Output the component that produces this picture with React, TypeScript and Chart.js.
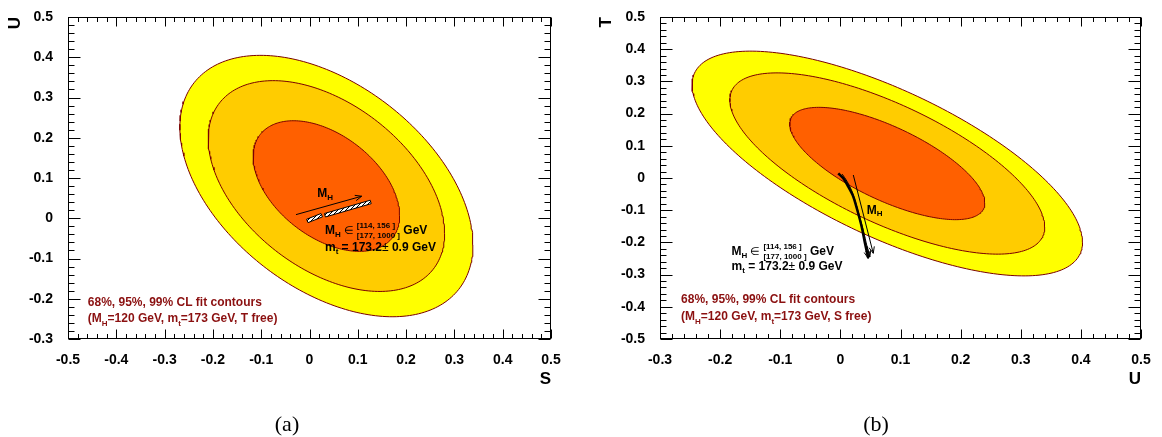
import React, { useEffect, useRef } from 'react';
import { Chart, registerables } from 'chart.js';

Chart.register(...registerables);

// Confidence levels of the fit contours (Δχ² for two parameters) and their fills
const clLabels = ['68%', '95%', '99%'];
const deltaChi2 = [2.3, 5.99, 9.21];
const clFill = ['#ff6000', '#ffcc00', '#ffff00'];
const clEdge = '#7a0000';

// S–U fit with T free: best-fit point, uncertainties, correlation
const suCentre = [0.035, 0.08];
const suSigma = [0.1, 0.107];
const suCorr = -0.45;

// U–T fit with S free
const utCentre = [0.078, 0.045];
const utSigma = [0.107, 0.115];
const utCorr = -0.7;

// Axis ranges
const sRange = [-0.5, 0.5];
const uRangeA = [-0.3, 0.5];
const uRangeB = [-0.3, 0.5];
const tRange = [-0.5, 0.5];
const tickStep = 0.1;

// SM prediction (M_H ∈ [114,156] ∪ [177,1000] GeV, m_t = 173.2 ± 0.9 GeV), S–U plane
const suBandLight = [[-0.006, -0.0025], [0.0239, 0.0117], [0.0267, 0.0033], [-0.0032, -0.0109]];
const suBandHeavy = [[0.031, 0.0118], [0.1257, 0.0448], [0.1277, 0.0362], [0.033, 0.0032]];
const suArrow = [[-0.028, 0.009], [0.108, 0.0547]];

// SM prediction, U–T plane
const utBandEdge = [[-0.0035, 0.0146], [0.0048, -0.0009], [0.0131, -0.027], [0.0215, -0.058], [0.0281, -0.0994], [0.0354, -0.1513], [0.0409, -0.2029], [0.0464, -0.2494]];
const utBandInner = [[0.003, 0.012], [0.011, -0.01], [0.019, -0.04], [0.026, -0.08], [0.032, -0.12], [0.0385, -0.165], [0.044, -0.21], [0.049, -0.245]];
const utArrow = [[0.0215, 0.0093], [0.0547, -0.2338]];

const SANS = '"Liberation Sans", Arial, Helvetica, sans-serif';
const NOTE_RED = '#8b1010';

type Run = { t?: string; stack?: string[]; size: number; dy?: number; normal?: boolean };
type Note = { at: number[]; runs: Run[]; color: string };

const mhRange: Run[] = [
  { t: 'M', size: 12 }, { t: 'H', size: 8, dy: 4 }, { t: ' ∈ ', size: 11, normal: true },
  { stack: ['[114, 156 ]', '[177, 1000 ]'], size: 8 }, { t: ' GeV', size: 12 },
];
const mtValue: Run[] = [
  { t: 'm', size: 12 }, { t: 't', size: 8, dy: 4 }, { t: ' = 173.2', size: 12 },
  { t: '±', size: 12, normal: true }, { t: ' 0.9 GeV', size: 12 },
];
const mhLabel: Run[] = [{ t: 'M', size: 12 }, { t: 'H', size: 8, dy: 4 }];
const clTitle: Run[] = [{ t: `${clLabels.join(', ')} CL fit contours`, size: 12 }];
const fixedInputs = (free: string): Run[] => [
  { t: '(M', size: 12 }, { t: 'H', size: 8, dy: 5 }, { t: '=120 GeV, m', size: 12 },
  { t: 't', size: 8, dy: 5 }, { t: `=173 GeV, ${free} free)`, size: 12 },
];

function contour(centre: number[], sigma: number[], rho: number, chi2: number) {
  const k = Math.sqrt(chi2);
  const pts: { x: number; y: number }[] = [];
  for (let i = 0; i <= 240; i++) {
    const a = (i / 240) * 2 * Math.PI;
    const u = Math.cos(a);
    const v = Math.sin(a);
    pts.push({
      x: centre[0] + k * sigma[0] * u,
      y: centre[1] + k * sigma[1] * (rho * u + Math.sqrt(1 - rho * rho) * v),
    });
  }
  return pts;
}

const toXY = (arr: number[][], close = false) => {
  const pts = arr.map(([x, y]) => ({ x, y }));
  if (close) pts.push({ ...pts[0] });
  return pts;
};

function contourSets(centre: number[], sigma: number[], rho: number) {
  return deltaChi2.map((c, i) => ({
    data: contour(centre, sigma, rho, c),
    backgroundColor: clFill[i],
    borderColor: clEdge,
    borderWidth: 1,
    fill: 'shape',
    pointRadius: 0,
    tension: 0,
    order: 10 + i,
  }));
}

function drawRuns(ctx: CanvasRenderingContext2D, x: number, y: number, runs: Run[], color: string) {
  let cx = x;
  ctx.fillStyle = color;
  ctx.textAlign = 'left';
  ctx.textBaseline = 'middle';
  for (const r of runs) {
    ctx.font = `${r.normal ? '' : 'bold '}${r.size}px ${SANS}`;
    if (r.stack) {
      ctx.fillText(r.stack[0], cx, y - 5);
      ctx.fillText(r.stack[1], cx, y + 5);
      cx += Math.max(ctx.measureText(r.stack[0]).width, ctx.measureText(r.stack[1]).width);
    } else if (r.t) {
      ctx.fillText(r.t, cx, y + (r.dy || 0));
      cx += ctx.measureText(r.t).width;
    }
  }
}

function makeDecor(arrows: number[][][], notes: Note[]) {
  return {
    id: 'decor',
    afterDatasetsDraw(chart: any) {
      const { ctx, chartArea: a } = chart;
      const xs = chart.scales.x;
      const ys = chart.scales.y;
      const L = Math.round(a.left) + 0.5;
      const R = Math.round(a.right) - 0.5;
      const T = Math.round(a.top) + 0.5;
      const B = Math.round(a.bottom) - 0.5;
      ctx.save();
      ctx.strokeStyle = '#000';
      ctx.lineWidth = 1;
      ctx.strokeRect(L, T, R - L, B - T);

      const ticksOf = (scale: any) => {
        const major: number[] = scale.ticks.map((t: any) => t.value);
        const minor: number[] = [];
        for (let i = 0; i + 1 < major.length; i++) {
          for (let k = 1; k < 5; k++) minor.push(major[i] + ((major[i + 1] - major[i]) * k) / 5);
        }
        return { major, minor };
      };
      ctx.beginPath();
      const xt = ticksOf(xs);
      const drawX = (vals: number[], len: number) => {
        for (const v of vals) {
          const px = Math.round(xs.getPixelForValue(v)) + 0.5;
          ctx.moveTo(px, B); ctx.lineTo(px, B - len);
          ctx.moveTo(px, T); ctx.lineTo(px, T + len);
        }
      };
      drawX(xt.major, 9);
      drawX(xt.minor, 4.5);
      const yt = ticksOf(ys);
      const drawY = (vals: number[], len: number) => {
        for (const v of vals) {
          const py = Math.round(ys.getPixelForValue(v)) + 0.5;
          ctx.moveTo(L, py); ctx.lineTo(L + len, py);
          ctx.moveTo(R, py); ctx.lineTo(R - len, py);
        }
      };
      drawY(yt.major, 12);
      drawY(yt.minor, 6);
      ctx.stroke();

      // arrows: shaft along the listed points, open head at the last one
      for (const path of arrows) {
        const pts = path.map(([x, y]) => [xs.getPixelForValue(x), ys.getPixelForValue(y)]);
        ctx.beginPath();
        ctx.moveTo(pts[0][0], pts[0][1]);
        for (let i = 1; i < pts.length; i++) ctx.lineTo(pts[i][0], pts[i][1]);
        const [x1, y1] = pts[pts.length - 1];
        const [x0, y0] = pts[pts.length - 2];
        const d = Math.hypot(x1 - x0, y1 - y0) || 1;
        const ux = (x1 - x0) / d;
        const uy = (y1 - y0) / d;
        const hl = 7;
        const ang = 0.4;
        for (const s of [-1, 1]) {
          const c = Math.cos(s * ang);
          const sn = Math.sin(s * ang);
          const rx = ux * c - uy * sn;
          const ry = ux * sn + uy * c;
          ctx.moveTo(x1, y1);
          ctx.lineTo(x1 - hl * rx, y1 - hl * ry);
        }
        ctx.stroke();
      }

      for (const n of notes) {
        drawRuns(ctx, xs.getPixelForValue(n.at[0]), ys.getPixelForValue(n.at[1]), n.runs, n.color);
      }
      ctx.restore();
    },
  };
}

const fmt = (v: any) => (Math.abs(Number(v)) < 1e-9 ? '0' : Number(v).toFixed(1));

function panelOptions(xr: number[], yr: number[], xTitle: string, yTitle: string, yWidth: number, padRight: number, yTitlePad: number) {
  const tickFont = { family: SANS, size: 14, weight: 'bold' as const };
  const titleFont = { family: SANS, size: 17, weight: 'bold' as const };
  return {
    responsive: false,
    animation: false as const,
    events: [],
    layout: { padding: { left: 0, top: 17, right: padRight, bottom: 0 } },
    plugins: { legend: { display: false }, tooltip: { enabled: false } },
    scales: {
      x: {
        type: 'linear' as const,
        min: xr[0],
        max: xr[1],
        grid: { display: false },
        border: { display: false },
        ticks: { stepSize: tickStep, padding: 5, color: '#000', font: tickFont, callback: fmt, autoSkip: false, maxRotation: 0 },
        title: { display: true, text: xTitle, align: 'end' as const, color: '#000', font: titleFont, padding: { top: 0, bottom: 47 } },
        afterFit: (s: any) => { s.height = 98; },
      },
      y: {
        type: 'linear' as const,
        min: yr[0],
        max: yr[1],
        grid: { display: false },
        border: { display: false },
        ticks: { stepSize: tickStep, padding: 7, color: '#000', font: tickFont, callback: fmt, autoSkip: false },
        title: { display: true, text: yTitle, align: 'end' as const, color: '#000', font: titleFont, padding: { top: yTitlePad, bottom: 0 } },
        afterFit: (s: any) => { s.width = yWidth; },
      },
    },
  };
}

export default function App() {
  const refA = useRef<HTMLCanvasElement | null>(null);
  const refB = useRef<HTMLCanvasElement | null>(null);

  useEffect(() => {
    const pc = document.createElement('canvas');
    pc.width = 4;
    pc.height = 4;
    const p = pc.getContext('2d')!;
    p.fillStyle = '#fff';
    p.fillRect(0, 0, 4, 4);
    p.strokeStyle = '#000';
    p.lineWidth = 1;
    p.beginPath();
    p.moveTo(0, 4);
    p.lineTo(4, 0);
    p.stroke();
    const hatch = p.createPattern(pc, 'repeat');

    const bandSet = (arr: number[][]) => ({
      data: toXY(arr, true),
      backgroundColor: hatch,
      borderColor: '#000',
      borderWidth: 1,
      fill: 'shape',
      pointRadius: 0,
      tension: 0,
      order: 1,
    });
    const curveSet = (arr: number[][], width: number) => ({
      data: toXY(arr),
      borderColor: '#000',
      borderWidth: width,
      fill: false,
      pointRadius: 0,
      tension: 0.3,
      order: 1,
    });

    const chartA = new Chart(refA.current!, {
      type: 'line',
      data: { datasets: [...contourSets(suCentre, suSigma, suCorr), bandSet(suBandLight), bandSet(suBandHeavy)] as any },
      options: panelOptions(sRange, uRangeA, 'S', 'U', 68, 30, 5) as any,
      plugins: [
        makeDecor([suArrow], [
          { at: [0.016, 0.06], runs: mhLabel, color: '#000' },
          { at: [0.032, -0.032], runs: mhRange, color: '#000' },
          { at: [0.032, -0.073], runs: mtValue, color: '#000' },
          { at: [-0.459, -0.2097], runs: clTitle, color: NOTE_RED },
          { at: [-0.459, -0.2496], runs: fixedInputs('T'), color: NOTE_RED },
        ]),
      ],
    });

    const chartB = new Chart(refB.current!, {
      type: 'line',
      data: { datasets: [...contourSets(utCentre, utSigma, utCorr), curveSet(utBandEdge, 2.5), curveSet(utBandInner, 1)] as any },
      options: panelOptions(uRangeB, tRange, 'U', 'T', 79, 21, 15) as any,
      plugins: [
        makeDecor([utArrow, utBandEdge.slice(-2), utBandInner.slice(-2)], [
          { at: [0.044, -0.1], runs: mhLabel, color: '#000' },
          { at: [-0.181, -0.229], runs: mhRange, color: '#000' },
          { at: [-0.181, -0.2755], runs: mtValue, color: '#000' },
          { at: [-0.265, -0.379], runs: clTitle, color: NOTE_RED },
          { at: [-0.265, -0.4307], runs: fixedInputs('S'), color: NOTE_RED },
        ]),
      ],
    });

    return () => {
      chartA.destroy();
      chartB.destroy();
    };
  }, []);

  const caption: React.CSSProperties = {
    position: 'absolute',
    top: 424,
    transform: 'translate(-50%, -50%)',
    fontFamily: '"Liberation Serif", "DejaVu Serif", serif',
    fontSize: 22,
    color: '#000',
    whiteSpace: 'nowrap',
  };

  return (
    <div style={{ position: 'absolute', left: 0, top: 0, width: 1162, height: 437, background: '#fff', overflow: 'hidden' }}>
      <canvas ref={refA} width={581} height={437} style={{ position: 'absolute', left: 0, top: 0 }} />
      <canvas ref={refB} width={581} height={437} style={{ position: 'absolute', left: 581, top: 0 }} />
      <div style={{ ...caption, left: 287 }}>(a)</div>
      <div style={{ ...caption, left: 876 }}>(b)</div>
    </div>
  );
}
